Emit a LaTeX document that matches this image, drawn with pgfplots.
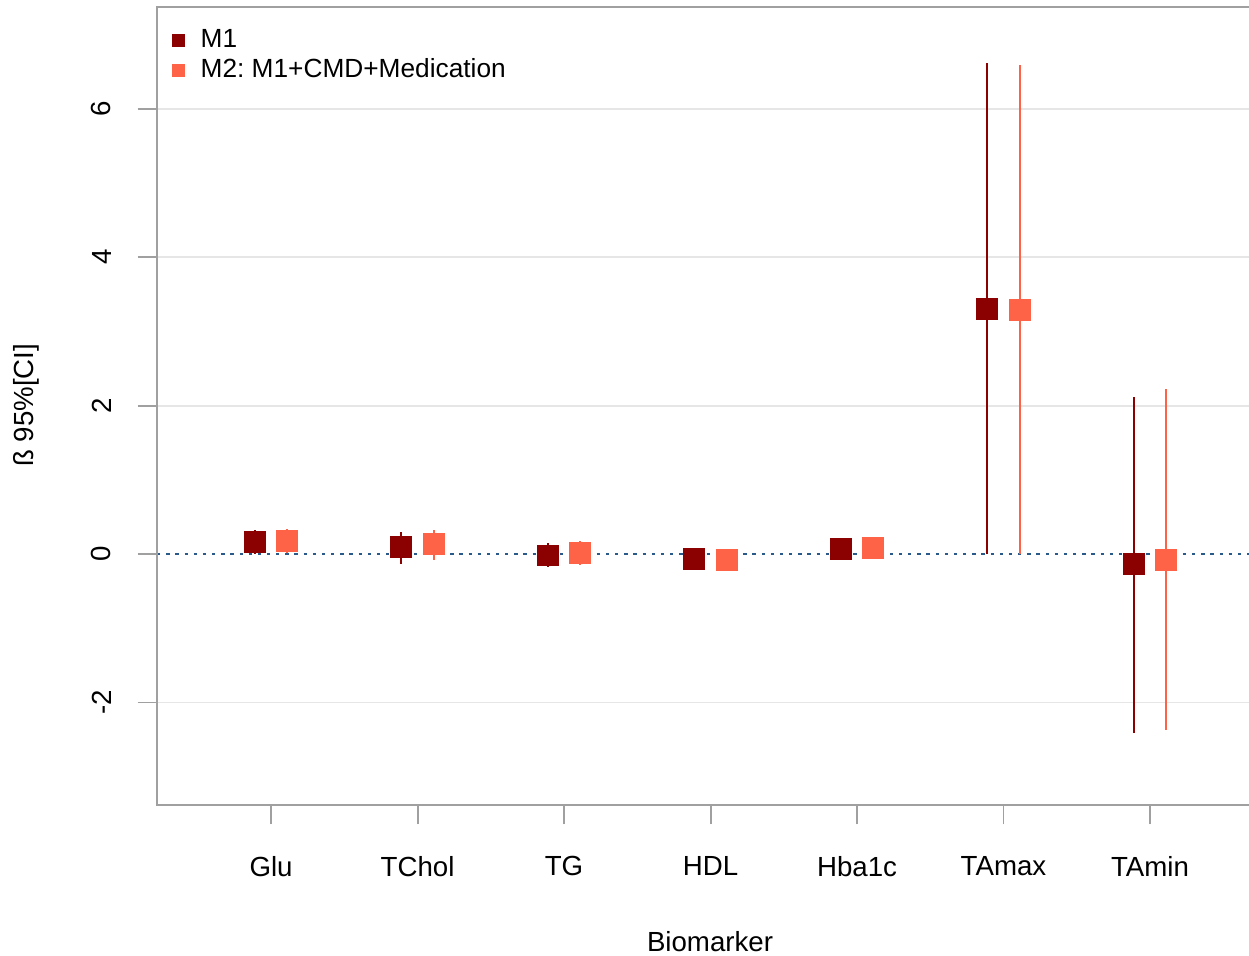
\documentclass[border=0pt]{standalone}
\usepackage{fontspec}
\setmainfont{Liberation Sans}
\usepackage{pgfplots}
\usepackage{pgfplotstable}
\pgfplotsset{compat=1.18}
\frenchspacing
\definecolor{mone}{HTML}{8B0000}
\definecolor{mtwo}{HTML}{FF6347}
\definecolor{axgray}{HTML}{A0A0A0}
\definecolor{gridgray}{HTML}{E6E6E6}
\definecolor{zeroblue}{HTML}{2A5A8A}

% M1: x offset -0.11, M2: +0.11
\pgfplotstableread{
x     y     ep    em
-0.11 0.16  0.16  0.16
0.89  0.09  0.21  0.22
1.89  -0.02 0.165 0.16
2.89  -0.07 0.08  0.08
3.89  0.07  0.07  0.07
4.89  3.30  3.31  3.30
5.89  -0.14 2.26  2.27
}\Mone
\pgfplotstableread{
x     y     ep    em
0.11  0.18  0.16  0.16
1.11  0.13  0.20  0.215
2.11  0.01  0.16  0.16
3.11  -0.08 0.08  0.07
4.11  0.08  0.07  0.07
5.11  3.29  3.30  3.29
6.11  -0.08 2.30  2.29
}\Mtwo

\begin{document}
\begin{tikzpicture}
\begin{axis}[
  scale only axis, width=393.4bp, height=287.5bp,
  xmin=-0.778, xmax=6.676, ymin=-3.38, ymax=7.37,
  axis line style={draw=none},
  font=\fontsize{10}{12}\selectfont,
  xtick={0,...,6}, xticklabels={Glu,TChol,TG,HDL,Hba1c,TAmax,TAmin},
  ytick={-2,2,4,6},
  extra y ticks={0}, extra y tick style={grid=none},
  /pgf/number format/assume math mode=true,
  tick style={axgray, line width=0.7bp},
  major tick length=7bp,
  tick align=outside, xtick pos=bottom, ytick pos=left,
  ymajorgrids, grid style={gridgray, line width=0.7bp},
  yticklabel style={rotate=90, anchor=south},
  yticklabel shift=6bp,
  xticklabel shift=8bp,
  xlabel={Biomarker},
  ylabel={ß 95\%[CI]},
  every axis x label/.style={at={(axis description cs:0.5064,-0.1717)}, anchor=center},
  every axis y label/.style={at={(axis description cs:-0.1198,0.501)}, anchor=center, rotate=90},
  legend style={draw=none, fill=none, at={(rel axis cs:0,1)}, anchor=north west,
    xshift=5.5bp, yshift=-6.5bp, inner sep=0pt, row sep=0pt,
    nodes={inner sep=1.3bp}, font=\fontsize{9.5}{11}\selectfont,
    /tikz/every odd column/.style={column sep=4.5bp}},
  legend cell align=left,
  legend image code/.code={\draw[#1] plot coordinates {(2.5bp,0bp)};},
]
\addlegendimage{only marks, mark=square*, mark size=2.1bp, mone, line width=0.3bp}
\addlegendentry{M1}
\addlegendimage{only marks, mark=square*, mark size=2.1bp, mtwo, line width=0.3bp}
\addlegendentry{M2: M1+CMD+Medication}

\addplot[zeroblue, line width=0.8bp, dash pattern=on 1.2bp off 2.1bp, forget plot]
  coordinates {(-0.778,0) (6.676,0)};

\addplot[only marks, mark=square*, mark size=3.7bp, mone, line width=0.5bp, forget plot,
  error bars/.cd, y dir=both, y explicit, error mark=none,
  error bar style={line width=0.75bp, mone}]
  table[x=x, y=y, y error plus=ep, y error minus=em] {\Mone};
\addplot[only marks, mark=square*, mark size=3.7bp, mtwo, line width=0.5bp, forget plot,
  error bars/.cd, y dir=both, y explicit, error mark=none,
  error bar style={line width=0.75bp, mtwo}]
  table[x=x, y=y, y error plus=ep, y error minus=em] {\Mtwo};

\coordinate (SW) at (rel axis cs:0,0);
\coordinate (NW) at (rel axis cs:0,1);
\coordinate (NE) at (rel axis cs:1,1);
\coordinate (SE) at (rel axis cs:1,0);
\end{axis}
\draw[axgray, line width=0.7bp] (NE) -- (NW) -- (SW) -- (SE);
\pgfresetboundingbox
\path ([xshift=-56.6bp,yshift=-54.4bp]SW) rectangle ([yshift=2.5bp]NE);
\end{tikzpicture}
\end{document}
